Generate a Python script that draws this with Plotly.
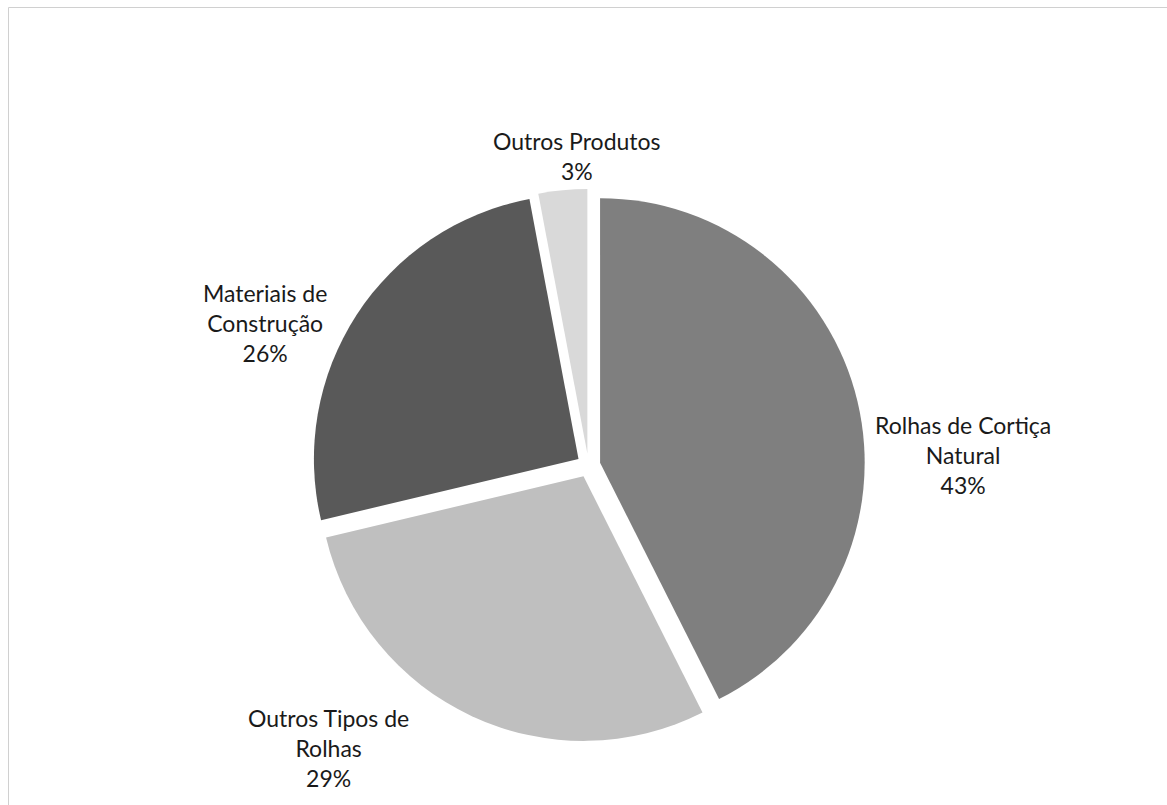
import plotly.graph_objects as go

# Export structure of cork products by product type (shares, %)
label_names = ["Rolhas de Cortiça Natural", "Outros Tipos de Rolhas",
               "Materiais de Construção", "Outros Produtos"]
values = [43, 29, 26, 3]
colors = ["#7f7f7f", "#bfbfbf", "#595959", "#d9d9d9"]

# Label text as shown next to each slice (with line breaks)
label_text = ["Rolhas de Cortiça<br>Natural", "Outros Tipos de<br>Rolhas",
              "Materiais de<br>Construção", "Outros Produtos"]

W, H = 1167, 805

fig = go.Figure()
fig.add_trace(go.Pie(
    labels=label_names,
    values=values,
    sort=False,
    direction="clockwise",
    rotation=0,
    pull=[0.045] * len(values),
    marker=dict(colors=colors, line=dict(width=0)),
    textinfo="none",
    hoverinfo="label+percent",
    showlegend=False,
    domain=dict(x=[312 / W, 865 / W], y=[63 / H, 616 / H]),
))

# Data labels placed around the pie (pixel anchor of each label block)
label_pos = [(963, 455), (328, 748), (265, 323), (577, 156)]
for txt, val, (px, py) in zip(label_text, values, label_pos):
    fig.add_annotation(
        x=px / W, y=1 - py / H, xref="paper", yref="paper",
        text=f"{txt}<br>{val}%", showarrow=False,
        xanchor="center", yanchor="middle", align="center",
        font=dict(family="Lato, 'Open Sans', sans-serif", size=23, color="#1a1a1a"),
    )

# Chart-area frame
fig.add_shape(type="rect", xref="paper", yref="paper",
              x0=8.5 / W, x1=1.02, y0=-0.02, y1=1 - 7.5 / H,
              line=dict(color="#d0d0d0", width=1), fillcolor="rgba(0,0,0,0)")

fig.update_layout(
    width=W, height=H,
    margin=dict(l=0, r=0, t=0, b=0),
    paper_bgcolor="white", plot_bgcolor="white",
)

fig.write_html("out.html")
